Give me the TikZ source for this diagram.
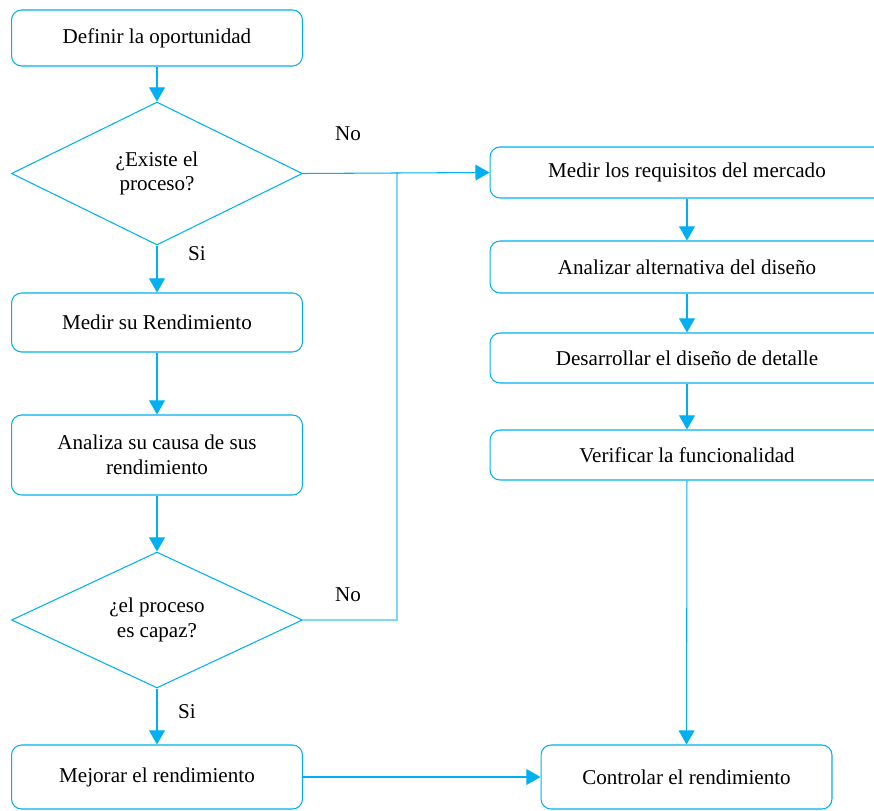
\documentclass[tikz,border=0pt]{standalone}
\usepackage{fontspec}
\setmainfont{Liberation Serif}
\usetikzlibrary{shapes.geometric,arrows.meta}
\definecolor{azulflujo}{RGB}{0,176,240}
\tikzset{
  caja/.style={draw=azulflujo,rounded corners=0.2cm,line width=0.6pt,fill=white,
    minimum width=5.82cm,inner sep=0pt,align=center},
  cajader/.style={caja,minimum width=7.88cm},
  decision/.style={draw=azulflujo,diamond,aspect=2,line width=0.6pt,
    minimum width=5.82cm,inner sep=0pt,align=center},
  flecha/.style={draw=azulflujo,line width=0.6pt,-{Triangle[width=9pt,length=8pt]}},
  retorno/.style={draw=azulflujo!50,line width=1pt},
  etiq/.style={inner sep=0pt}
}

\begin{document}
\begin{tikzpicture}[x=0.02cm,y=-0.02cm,font=\fontsize{12}{14}\selectfont]
  \useasboundingbox (0,0) rectangle (874,810);
  \clip (0,0) rectangle (874,810);
  % columna izquierda
  \node[caja,minimum height=1.12cm] (def) at (157,38) {Definir la oportunidad};
  \node[decision,minimum height=2.86cm] (q1) at (157,173.5) {¿Existe el\\proceso?};
  \node[caja,minimum height=1.18cm] (med) at (157,322.5) {Medir su Rendimiento};
  \node[caja,minimum height=1.6cm] (ana) at (157,455) {Analiza su causa de sus\\rendimiento};
  \node[decision,minimum height=2.72cm] (q2) at (157,620) {¿el proceso\\es capaz?};
  \node[caja,minimum height=1.28cm] (mej) at (157,777) {Mejorar el rendimiento};
  % columna derecha
  \node[cajader,minimum height=1.02cm] (r1) at (687,172.5) {Medir los requisitos del mercado};
  \node[cajader,minimum height=1.04cm] (r2) at (687,267) {Analizar alternativa del diseño};
  \node[cajader,minimum height=1.0cm] (r3) at (687,358) {Desarrollar el diseño de detalle};
  \node[cajader,minimum height=1.0cm] (r4) at (687,455) {Verificar la funcionalidad};
  \node[caja,minimum height=1.28cm] (ctl) at (686.5,777) {Controlar el rendimiento};
  % etiquetas
  \node[etiq] (no1) at (348,134) {No};
  \node[etiq] (si1) at (197,254) {Si};
  \node[etiq] (no2) at (348,595) {No};
  \node[etiq] (si2) at (187,712) {Si};
  \coordinate (union) at (397,172.5);
  % conexiones
  \draw[retorno] (q2.east) -| (union);
  \draw[flecha] (def) -- (q1);
  \draw[flecha] (q1) -- (med);
  \draw[flecha] (med) -- (ana);
  \draw[flecha] (ana) -- (q2);
  \draw[flecha] (q2) -- (mej);
  \draw[flecha] (q1.east) -- (r1.west);
  \draw[flecha] (r1) -- (r2);
  \draw[flecha] (r2) -- (r3);
  \draw[flecha] (r3) -- (r4);
  \draw[flecha] (r4) -- (ctl);
  \draw[flecha] (mej) -- (ctl);
\end{tikzpicture}
\end{document}
